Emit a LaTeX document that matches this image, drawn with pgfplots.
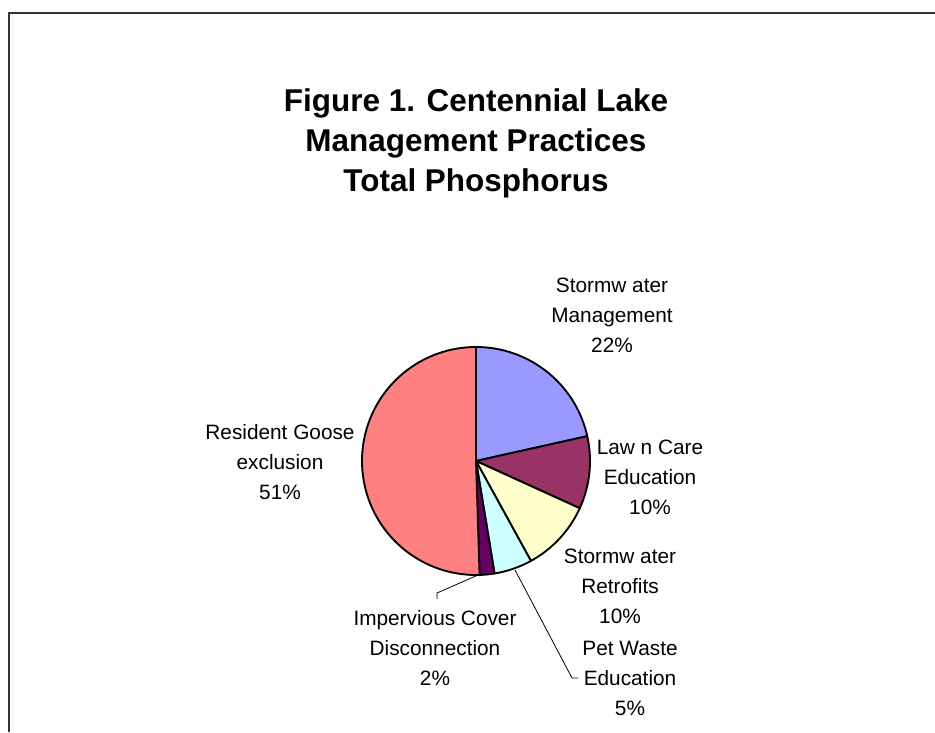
\documentclass[border=0pt]{standalone}
\usepackage{pgfplots}
\usepackage{pgfplotstable}
\pgfplotsset{compat=1.18}
\usepackage{fontspec}
\setmainfont{Liberation Sans}
\definecolor{cSWM}{HTML}{9999FF}
\definecolor{cLawn}{HTML}{993366}
\definecolor{cRetro}{HTML}{FFFFCC}
\definecolor{cPet}{HTML}{CCFFFF}
\definecolor{cImp}{HTML}{660066}
\definecolor{cGoose}{HTML}{FF8080}

\pgfplotstableread{
label value
SWM 21.5
Lawn 10.3
Retro 10.2
Pet 5.4
Imp 2.1
Goose 50.5
}\pietable

\pgfplotstablegetelem{0}{value}\of\pietable \let\vA\pgfplotsretval
\pgfplotstablegetelem{1}{value}\of\pietable \let\vB\pgfplotsretval
\pgfplotstablegetelem{2}{value}\of\pietable \let\vC\pgfplotsretval
\pgfplotstablegetelem{3}{value}\of\pietable \let\vD\pgfplotsretval
\pgfplotstablegetelem{4}{value}\of\pietable \let\vE\pgfplotsretval
\pgfplotstablegetelem{5}{value}\of\pietable \let\vF\pgfplotsretval
\pgfmathsetmacro\tA{90}
\pgfmathsetmacro\tB{\tA-3.6*\vA}
\pgfmathsetmacro\tC{\tB-3.6*\vB}
\pgfmathsetmacro\tD{\tC-3.6*\vC}
\pgfmathsetmacro\tE{\tD-3.6*\vD}
\pgfmathsetmacro\tF{\tE-3.6*\vE}
\pgfmathsetmacro\tG{\tF-3.6*\vF}

\def\cx{476}
\def\cy{271}
\def\rr{114}

\begin{document}
\begin{tikzpicture}
\useasboundingbox (0,0) rectangle (701.25pt,549pt);
\begin{axis}[
  at={(0,0)}, anchor=south west,
  scale only axis, width=701.25pt, height=549pt,
  xmin=0, xmax=935, ymin=0, ymax=732,
  hide axis, clip=false,
]
% frame
\draw[black!80, line width=1.2pt] (axis cs:9,0) -- (axis cs:9,719) -- (axis cs:935,719);

% pie slices
\pgfplotsset{slice/.style={draw=black, line width=1.4pt, line join=round}}
\addplot[slice, fill=cSWM, domain=\tB:\tA, samples=80]
  ({\cx+\rr*cos(x)},{\cy+\rr*sin(x)}) -- (axis cs:\cx,\cy) -- cycle;
\addplot[slice, fill=cLawn, domain=\tC:\tB, samples=60]
  ({\cx+\rr*cos(x)},{\cy+\rr*sin(x)}) -- (axis cs:\cx,\cy) -- cycle;
\addplot[slice, fill=cRetro, domain=\tD:\tC, samples=60]
  ({\cx+\rr*cos(x)},{\cy+\rr*sin(x)}) -- (axis cs:\cx,\cy) -- cycle;
\addplot[slice, fill=cPet, domain=\tE:\tD, samples=40]
  ({\cx+\rr*cos(x)},{\cy+\rr*sin(x)}) -- (axis cs:\cx,\cy) -- cycle;
\addplot[slice, fill=cImp, domain=\tF:\tE, samples=20]
  ({\cx+\rr*cos(x)},{\cy+\rr*sin(x)}) -- (axis cs:\cx,\cy) -- cycle;
\addplot[slice, fill=cGoose, domain=\tG:\tF, samples=150]
  ({\cx+\rr*cos(x)},{\cy+\rr*sin(x)}) -- (axis cs:\cx,\cy) -- cycle;

% title
\node[align=center, font=\fontsize{23.6}{30}\selectfont\bfseries] at (axis cs:476,589)
  {Figure 1. Centennial Lake\\Management Practices\\Total Phosphorus};

% labels
\tikzset{lbl/.style={align=center, font=\fontsize{15.6}{22.5}\selectfont}}
\node[lbl] at (axis cs:612,417) {Stormw ater\\Management\\22\%};
\node[lbl] at (axis cs:650,255) {Law n Care\\Education\\10\%};
\node[lbl] at (axis cs:280,270) {Resident Goose\\exclusion\\51\%};
\node[lbl] at (axis cs:620,146) {Stormw ater\\Retrofits\\10\%};
\node[lbl] at (axis cs:630,54) {Pet Waste\\Education\\5\%};
\node[lbl] at (axis cs:435,84) {Impervious Cover\\Disconnection\\2\%};

% leader lines
\draw[black, line width=0.6pt] (axis cs:478,157) -- (axis cs:437,139) -- (axis cs:437,133);
\draw[black, line width=0.6pt] (axis cs:515,162) -- (axis cs:572,54) -- (axis cs:578,54);
\end{axis}
\end{tikzpicture}
\end{document}
